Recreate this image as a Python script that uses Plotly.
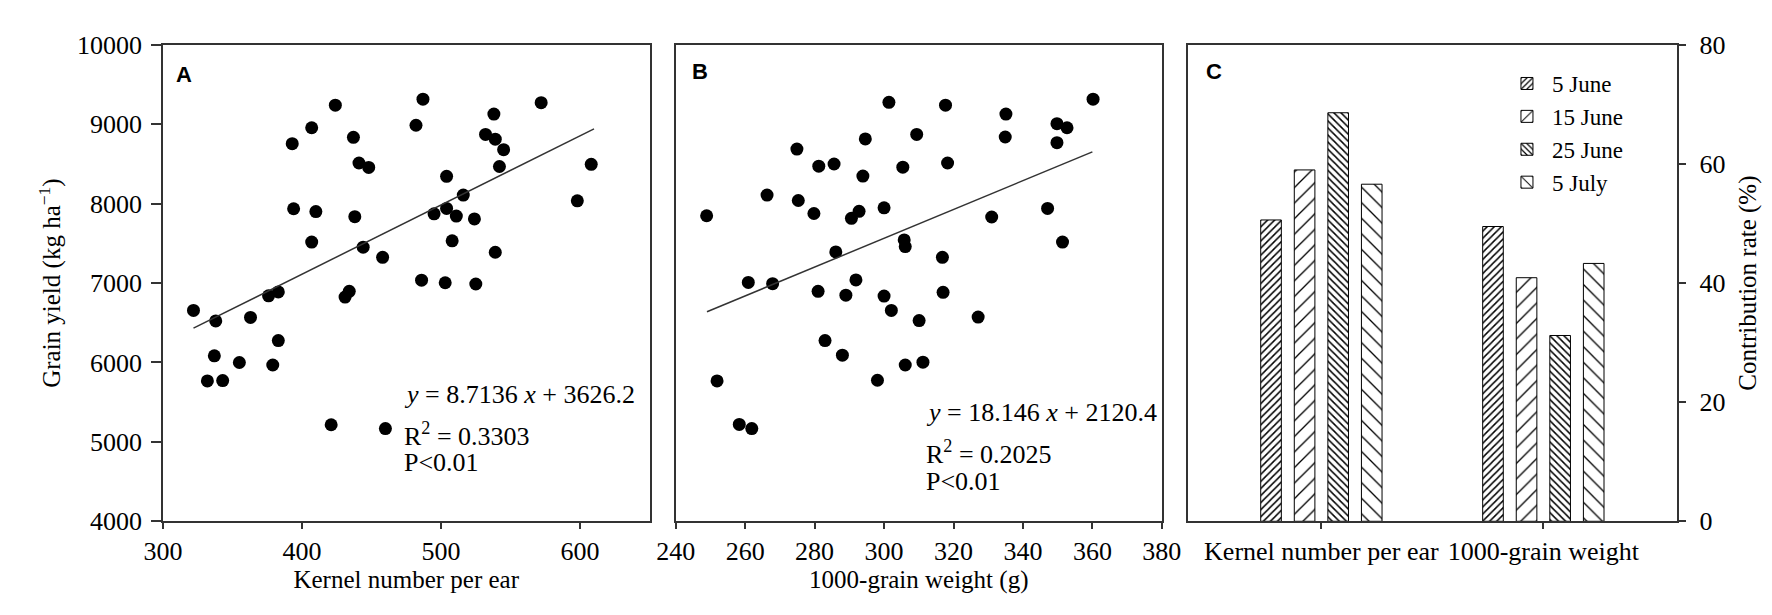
import plotly.graph_objects as go

# panel A: kernel number per ear vs grain yield
kernel_x = [322, 376, 383, 431, 434, 393, 407, 424, 437, 441, 448, 394, 410, 438, 407, 444,
            458, 482, 487, 504, 516, 495, 504, 511, 524, 508, 539, 486, 503, 525, 532, 539,
            538, 545, 542, 572, 598, 608, 338, 363, 383, 337, 355, 379, 332, 343, 421, 460]
kernel_y = [6656, 6840, 6888, 6824, 6896, 8756, 8956, 9240, 8836, 8512, 8456, 7936, 7900, 7836, 7516, 7452,
            7324, 8988, 9316, 8344, 8108, 7872, 7940, 7844, 7808, 7532, 7388, 7036, 7004, 6988, 8872, 8812,
            9128, 8680, 8468, 9272, 8036, 8496, 6524, 6568, 6276, 6084, 6000, 5968, 5768, 5772, 5216, 5168]
fit_a_x = [322, 610]
fit_a_y = [6432, 8942]

# panel B: 1000-grain weight vs grain yield
weight_x = [248.9, 266.3, 274.9, 275.3, 281.2, 285.6, 279.8, 294.6, 293.9, 292.8, 290.6, 300.0,
            301.4, 309.4, 305.4, 317.7, 318.3, 305.8, 306.1, 286.1, 316.8, 331.0, 335.1, 334.9,
            260.9, 267.9, 281.0, 291.9, 289.0, 300.0, 317.0, 302.1, 310.1, 327.1, 283.0, 288.0,
            306.1, 311.2, 298.1, 251.9, 258.3, 261.9, 360.2, 349.8, 352.7, 349.8, 347.1, 351.4]
weight_y = [7848, 8108, 8688, 8040, 8472, 8500, 7876, 8816, 8348, 7904, 7816, 7948,
            9276, 8872, 8460, 9240, 8512, 7544, 7460, 7392, 7324, 7832, 9128, 8840,
            7008, 6992, 6896, 7040, 6848, 6836, 6884, 6656, 6528, 6572, 6276, 6092,
            5968, 6004, 5776, 5768, 5220, 5168, 9316, 9008, 8956, 8768, 7940, 7516]
fit_b_x = [249, 360]
fit_b_y = [6639, 8653]

# panel C: contribution rate
traits = ["Kernel number per ear", "1000-grain weight"]
dates = ["5 June", "15 June", "25 June", "5 July"]
contrib = {
    "5 June": [50.6, 49.5],
    "15 June": [59.0, 40.9],
    "25 June": [68.6, 31.2],
    "5 July": [56.6, 43.3],
}

serif = "Liberation Serif"
axcol = "#333333"
patterns = {
    "5 June": dict(shape="/", size=5, solidity=0.3),
    "15 June": dict(shape="/", size=11, solidity=0.12),
    "25 June": dict(shape="\\", size=5, solidity=0.3),
    "5 July": dict(shape="\\", size=11, solidity=0.12),
}

fig = go.Figure()

fig.add_trace(go.Scatter(x=kernel_x, y=kernel_y, mode="markers", showlegend=False,
                         marker=dict(color="black", size=13), xaxis="x", yaxis="y"))
fig.add_trace(go.Scatter(x=fit_a_x, y=fit_a_y, mode="lines", showlegend=False,
                         line=dict(color=axcol, width=1.5), xaxis="x", yaxis="y"))
fig.add_trace(go.Scatter(x=weight_x, y=weight_y, mode="markers", showlegend=False,
                         marker=dict(color="black", size=13), xaxis="x2", yaxis="y2"))
fig.add_trace(go.Scatter(x=fit_b_x, y=fit_b_y, mode="lines", showlegend=False,
                         line=dict(color=axcol, width=1.5), xaxis="x2", yaxis="y2"))

for d in dates:
    p = patterns[d]
    fig.add_trace(go.Bar(
        x=traits, y=contrib[d], name=d, xaxis="x3", yaxis="y3",
        marker=dict(color="white", line=dict(color="black", width=1),
                    pattern=dict(shape=p["shape"], size=p["size"], solidity=p["solidity"],
                                 fgcolor="black", bgcolor="white", fillmode="replace")),
    ))

W, H = 1772, 615
top, bottom = 24, 524
ydom = [1 - bottom / H, 1 - top / H]

common = dict(showline=True, mirror=True, linecolor=axcol, linewidth=1.5, showgrid=False,
              zeroline=False, ticks="outside", ticklen=6, tickcolor=axcol, tickwidth=1.5,
              tickfont=dict(family=serif, size=26, color="black"),
              title_font=dict(family=serif, size=25, color="black"))

fig.update_layout(
    width=W, height=H,
    margin=dict(l=0, r=0, t=0, b=0),
    paper_bgcolor="white", plot_bgcolor="white",
    barmode="group", bargap=0.395, bargroupgap=0.386,
    font=dict(family=serif, size=24, color="black"),
    xaxis=dict(domain=[138 / W, 636 / W], range=[300, 650], tickvals=[300, 400, 500, 600],
               title=dict(text="Kernel number per ear", standoff=2), anchor="y", **common),
    yaxis=dict(domain=ydom, range=[4000, 10000], dtick=1000, tickformat="d",
               title=dict(text="Grain yield (kg ha<sup>−1</sup>)", standoff=9), anchor="x",
               **{**common, "ticklen": 10, "ticklabelstandoff": 4}),
    xaxis2=dict(domain=[662.7 / W, 1160 / W], range=[240, 380], dtick=20,
                title=dict(text="1000-grain weight (g)", standoff=2), anchor="y2", **common),
    yaxis2=dict(domain=ydom, range=[4000, 10000], anchor="x2",
                **{**common, "ticks": "", "showticklabels": False}),
    xaxis3=dict(domain=[1187 / W, 1686.6 / W], range=[-0.6, 1.6], type="category",
                anchor="y3", **common),
    yaxis3=dict(domain=ydom, range=[0, 80], dtick=20, side="right", anchor="x3",
                title=dict(text="Contribution rate (%)", standoff=14),
                **{**common, "ticklen": 8, "ticklabelstandoff": 8}),
    legend=dict(x=1508 / W, y=1 - 42 / H, xanchor="left", yanchor="top",
                font=dict(family=serif, size=23), bgcolor="rgba(0,0,0,0)",
                tracegroupgap=0, itemwidth=40),
)

notes = [
    ("x", "y", 472, 5600, "<i>y</i> = 8.7136 <i>x</i> + 3626.2"),
    ("x", "y", 472, 5092, "R<sup>2</sup> = 0.3303"),
    ("x", "y", 472, 4744, "P&lt;0.01"),
    ("x2", "y2", 311.5, 5368, "<i>y</i> = 18.146 <i>x</i> + 2120.4"),
    ("x2", "y2", 311.5, 4868, "R<sup>2</sup> = 0.2025"),
    ("x2", "y2", 311.5, 4500, "P&lt;0.01"),
]
for xr, yr, xv, yv, txt in notes:
    fig.add_annotation(x=xv, y=yv, xref=xr, yref=yr, text=txt, showarrow=False,
                       xanchor="left", yanchor="middle",
                       font=dict(family=serif, size=26, color="black"))

for lab, px, py in [("A", 160, 55), ("B", 688, 52), ("C", 1213, 52)]:
    fig.add_annotation(x=px / W, y=1 - py / H, xref="paper", yref="paper", text="<b>%s</b>" % lab,
                       showarrow=False, xanchor="center", yanchor="middle",
                       font=dict(family="Liberation Sans", size=22, color="black"))

fig.write_html("out.html")
